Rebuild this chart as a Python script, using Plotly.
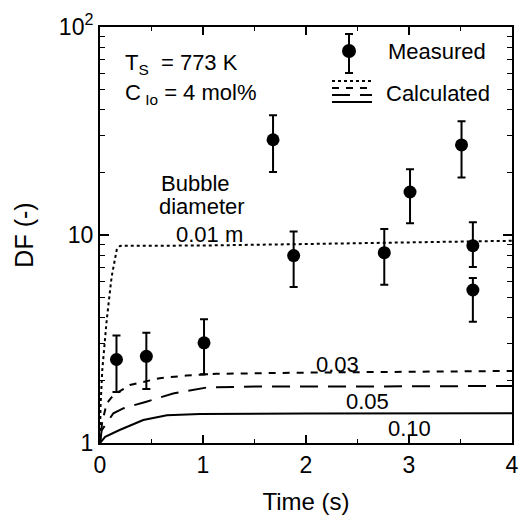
import plotly.graph_objects as go

# ---------------- data ----------------
t_meas = [0.16, 0.45, 1.01, 1.68, 1.88, 2.76, 3.01, 3.51, 3.62, 3.62]
df_meas = [2.52, 2.61, 3.03, 28.7, 7.96, 8.22, 16.1, 27.1, 8.89, 5.44]
df_hi = [3.29, 3.39, 3.93, 37.6, 10.4, 10.7, 20.7, 35.2, 11.5, 6.21]
df_lo = [1.76, 1.82, 2.14, 20.1, 5.62, 5.77, 11.4, 18.9, 7.02, 3.83]

t_001 = [0, 0.005, 0.022, 0.065, 0.113, 0.162, 0.194, 0.25, 0.5, 1, 2, 3, 4]
df_001 = [1.0, 1.5, 2.24, 3.9, 6.3, 8.47, 8.86, 8.88, 8.88, 8.9, 9.05, 9.2, 9.38]

t_003 = [0, 0.02, 0.065, 0.13, 0.29, 0.58, 0.84, 1.13, 2, 3, 4]
df_003 = [1.0, 1.25, 1.55, 1.70, 1.90, 2.05, 2.11, 2.15, 2.18, 2.2, 2.22]

t_005 = [0, 0.016, 0.13, 0.23, 0.45, 0.71, 1.04, 1.55, 2.5, 4]
df_005 = [1.0, 1.15, 1.39, 1.47, 1.58, 1.73, 1.85, 1.87, 1.87, 1.88]

t_010 = [0, 0.05, 0.19, 0.42, 0.65, 0.97, 2, 3, 4]
df_010 = [1.0, 1.07, 1.155, 1.29, 1.36, 1.38, 1.385, 1.39, 1.39]

x_ticks = [0, 1, 2, 3, 4]
y_tickvals = [1, 10, 100]
y_ticktext = ["1", "10", "10<sup>2</sup>"]
y_minor = [2, 3, 4, 5, 6, 7, 8, 9, 20, 30, 40, 50, 60, 70, 80, 90]
x_minor = [0.5, 1.5, 2.5, 3.5]

FONT = "Liberation Sans, Arial, Helvetica, sans-serif"

fig = go.Figure()

line_w = 2
fig.add_trace(go.Scatter(x=t_001, y=df_001, mode="lines",
                         line=dict(color="black", width=line_w, dash="dot"),
                         showlegend=False))
fig.add_trace(go.Scatter(x=t_003, y=df_003, mode="lines",
                         line=dict(color="black", width=line_w, dash="7px,7px"),
                         showlegend=False))
fig.add_trace(go.Scatter(x=t_005, y=df_005, mode="lines",
                         line=dict(color="black", width=line_w, dash="18px,10px"),
                         showlegend=False))
fig.add_trace(go.Scatter(x=t_010, y=df_010, mode="lines",
                         line=dict(color="black", width=line_w),
                         showlegend=False))

err_plus = [h - v for h, v in zip(df_hi, df_meas)]
err_minus = [v - l for v, l in zip(df_meas, df_lo)]
fig.add_trace(go.Scatter(x=t_meas, y=df_meas, mode="markers",
                         marker=dict(color="black", size=13, symbol="circle"),
                         error_y=dict(type="data", array=err_plus,
                                      arrayminus=err_minus, color="black",
                                      thickness=2, width=4, symmetric=False),
                         showlegend=False))

# ---------------- layout ----------------
L, R, T, B = 100, 8, 27, 75
W, H = 520, 518
pw, ph = W - L - R, H - T - B


def px(x):
    return (x - L) / pw


def py(y):
    return (H - B - y) / ph


ann = []


def add_text(text, x, y, size=22, xanchor="left"):
    ann.append(dict(text=text, x=px(x), y=py(y), xref="paper", yref="paper",
                    xanchor=xanchor, yanchor="middle", showarrow=False,
                    font=dict(family=FONT, size=size, color="black")))


add_text("T<sub>S</sub>  = 773 K", 123, 64)
add_text("C<sub> Io</sub> = 4 mol%", 123, 94)
add_text("Measured", 386, 51)
add_text("Calculated", 384, 93)
add_text("Bubble", 159, 183)
add_text("diameter", 157, 206)
add_text("0.01 m", 174, 234)
add_text("0.03", 314, 364)
add_text("0.05", 344, 401)
add_text("0.10", 386, 428)

shapes = []
# legend: marker with error bar
cx, cy, r = 349, 51, 7
shapes.append(dict(type="line", xref="paper", yref="paper",
                   x0=px(cx), x1=px(cx), y0=py(34), y1=py(73),
                   line=dict(color="black", width=2)))
for yy in (34, 73):
    shapes.append(dict(type="line", xref="paper", yref="paper",
                       x0=px(cx - 4), x1=px(cx + 4), y0=py(yy), y1=py(yy),
                       line=dict(color="black", width=2)))
shapes.append(dict(type="circle", xref="paper", yref="paper",
                   x0=px(cx - r), x1=px(cx + r), y0=py(cy + r), y1=py(cy - r),
                   fillcolor="black", line=dict(color="black", width=0)))
# legend: four line styles
for yy, dash in ((81, "dot"), (88, "7px,7px"), (95, "18px,10px"), (102, "solid")):
    shapes.append(dict(type="line", xref="paper", yref="paper",
                       x0=px(332), x1=px(372), y0=py(yy), y1=py(yy),
                       line=dict(color="black", width=2, dash=dash)))

fig.update_layout(
    width=W, height=H,
    margin=dict(l=L, r=R, t=T, b=B, autoexpand=False),
    paper_bgcolor="white", plot_bgcolor="white",
    font=dict(family=FONT, size=23, color="black"),
    annotations=ann, shapes=shapes,
    xaxis=dict(range=[0, 4], tickvals=x_ticks, ticks="inside", ticklen=8,
               tickwidth=1.5, tickcolor="black", showline=True,
               linecolor="black", linewidth=2, mirror="allticks",
               showgrid=False, zeroline=False, automargin=False,
               tickfont=dict(size=23),
               minor=dict(tickvals=x_minor, ticks="inside", ticklen=4,
                          tickwidth=1.2, tickcolor="black", showgrid=False),
               title=dict(text="Time (s)", font=dict(size=24), standoff=17)),
    yaxis=dict(type="log", range=[0, 2], tickvals=y_tickvals,
               ticktext=y_ticktext, ticks="inside", ticklen=9,
               tickwidth=1.5, tickcolor="black", showline=True,
               linecolor="black", linewidth=2, mirror="allticks",
               showgrid=False, zeroline=False, automargin=False,
               tickfont=dict(size=23),
               minor=dict(tickvals=y_minor, ticks="inside", ticklen=5,
                          tickwidth=1.2, tickcolor="black", showgrid=False),
               title=dict(text="DF (-)", font=dict(size=25), standoff=18)),
)

fig.write_html("out.html",
               config={"displayModeBar": False},
               post_script="document.body.style.margin='0';"
                           "document.body.style.padding='0';")
